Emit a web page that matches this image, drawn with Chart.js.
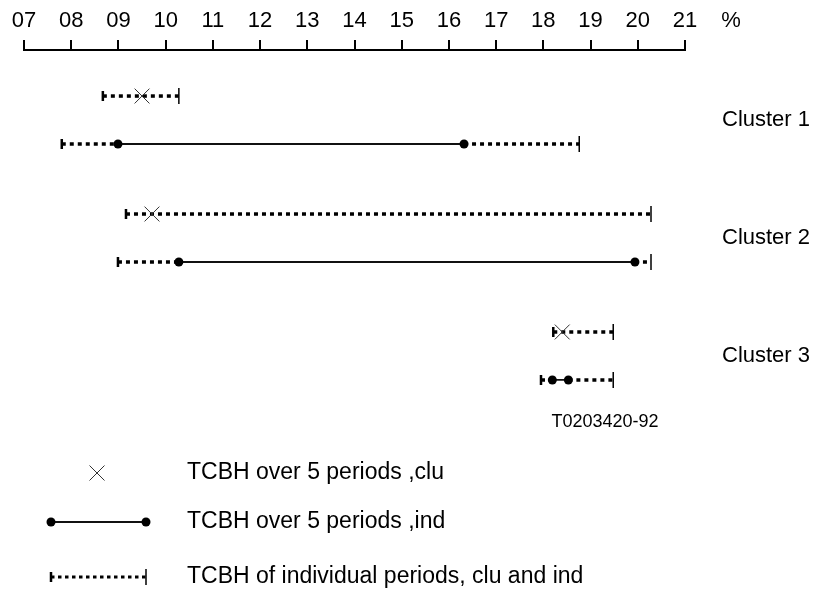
<!DOCTYPE html>
<html>
<head>
<meta charset="utf-8">
<script src="https://cdn.jsdelivr.net/npm/chart.js@4.4.1/dist/chart.umd.min.js"></script>
<style>
  body { margin: 0; background: #fff; }
  canvas { display: block; }
</style>
</head>
<body>
<canvas id="tcbh-chart" width="819" height="590"></canvas>
<script>
// --TCBH chart-- //

const tickLabels = ['07', '08', '09', '10', '11', '12', '13', '14', '15', '16', '17', '18', '19', '20', '21'];
const clusters = ['Cluster 1', 'Cluster 2', 'Cluster 3'];

// cluster rows (clu)
const cluMin = [8.67, 9.16, 18.21];
const cluMax = [10.28, 20.28, 19.48];
const cluOver = [9.50, 9.71, 18.40];

// individual rows (ind)
const indMin = [7.80, 8.99, 17.95];
const indLow = [8.99, 10.28, 18.19];
const indHigh = [16.32, 19.94, 18.53];
const indMax = [18.76, 20.28, 19.48];

const legendLabels = [
  'TCBH over 5 periods ,clu',
  'TCBH over 5 periods ,ind',
  'TCBH of individual periods, clu and ind'
];

const FONT = '"Liberation Sans", Arial, Helvetica, sans-serif';
const ink = '#000';

const cluRow = (i) => 0.96 + i * 2.46;
const indRow = (i) => cluRow(i) + 1;

const rangeStyle = {
  type: 'line',
  borderColor: ink,
  borderWidth: 3.5,
  borderDash: [4, 4],
  pointStyle: 'line',
  pointRotation: 90,
  pointBorderColor: ink,
  pointHoverRadius: 0,
  spanGaps: false,
  order: 3
};

let datasets = [];
clusters.forEach((name, i) => {
  datasets.push(Object.assign({}, rangeStyle, {
    data: [{x: cluMin[i], y: cluRow(i)}, {x: cluMax[i], y: cluRow(i)}],
    pointRadius: [5, 8],
    pointBorderWidth: [2.5, 1.5]
  }));
  datasets.push(Object.assign({}, rangeStyle, {
    data: [
      {x: indMin[i], y: indRow(i)},
      {x: indLow[i], y: indRow(i)},
      {x: indLow[i], y: null},
      {x: indHigh[i], y: indRow(i)},
      {x: indMax[i], y: indRow(i)}
    ],
    pointRadius: [5, 0, 0, 0, 8],
    pointBorderWidth: [2.5, 0, 0, 0, 1.5]
  }));
  datasets.push({
    type: 'line',
    data: [{x: indLow[i], y: indRow(i)}, {x: indHigh[i], y: indRow(i)}],
    borderColor: '#111',
    borderWidth: 1.8,
    pointStyle: 'circle',
    pointRadius: 4.5,
    pointBackgroundColor: ink,
    pointBorderColor: ink,
    pointBorderWidth: 0,
    order: 1
  });
  datasets.push({
    type: 'scatter',
    data: [{x: cluOver[i], y: cluRow(i)}],
    pointStyle: 'crossRot',
    pointRadius: 10.5,
    pointBorderWidth: 1,
    pointBorderColor: '#333',
    order: 0
  });
});

// texts and legend drawn on the canvas
const annotations = {
  id: 'annotations',
  afterDraw(chart) {
    const {ctx, scales: {x, y}} = chart;
    ctx.save();
    ctx.fillStyle = ink;
    ctx.textBaseline = 'middle';

    ctx.font = '22px ' + FONT;
    ctx.textAlign = 'center';
    ctx.fillText('%', x.right + 46, 21);

    ctx.textAlign = 'left';
    clusters.forEach((name, i) => {
      ctx.fillText(name, x.right + 37, y.getPixelForValue(cluRow(i) + 0.5));
    });

    ctx.font = '18px ' + FONT;
    ctx.textAlign = 'center';
    ctx.fillText('T0203420-92', 605, 422);

    // legend
    const rows = [473, 522, 577];
    const sx = 51, ex = 146;
    ctx.strokeStyle = '#333';
    ctx.lineWidth = 1;
    ctx.beginPath();
    ctx.moveTo(97 - 7.5, rows[0] - 7.5); ctx.lineTo(97 + 7.5, rows[0] + 7.5);
    ctx.moveTo(97 + 7.5, rows[0] - 7.5); ctx.lineTo(97 - 7.5, rows[0] + 7.5);
    ctx.stroke();

    ctx.strokeStyle = '#111';
    ctx.lineWidth = 1.8;
    ctx.beginPath();
    ctx.moveTo(sx, rows[1]); ctx.lineTo(ex, rows[1]);
    ctx.stroke();
    [sx, ex].forEach(px => {
      ctx.beginPath();
      ctx.arc(px, rows[1], 4.5, 0, Math.PI * 2);
      ctx.fill();
    });

    ctx.strokeStyle = ink;
    ctx.lineWidth = 3;
    ctx.setLineDash([3.5, 3.5]);
    ctx.beginPath();
    ctx.moveTo(sx, rows[2]); ctx.lineTo(ex, rows[2]);
    ctx.stroke();
    ctx.setLineDash([]);
    ctx.lineWidth = 2.5;
    ctx.beginPath();
    ctx.moveTo(sx, rows[2] - 5); ctx.lineTo(sx, rows[2] + 5);
    ctx.stroke();
    ctx.lineWidth = 1.5;
    ctx.beginPath();
    ctx.moveTo(ex, rows[2] - 8); ctx.lineTo(ex, rows[2] + 8);
    ctx.stroke();

    ctx.font = '23px ' + FONT;
    ctx.textAlign = 'left';
    legendLabels.forEach((t, i) => ctx.fillText(t, 187, rows[i]));
    ctx.restore();
  }
};

const tcbhCanvas = document.getElementById('tcbh-chart');

const tcbhChart = new Chart(tcbhCanvas, {
  data: { datasets: datasets },
  options: {
    responsive: false,
    animation: false,
    events: [],
    layout: {
      padding: { left: 24, right: 134, top: 0, bottom: 0 }
    },
    scales: {
      x: {
        type: 'linear',
        position: 'top',
        min: 7,
        max: 21,
        afterFit: (scale) => { scale.height = 50; },
        border: { display: true, color: ink, width: 2 },
        grid: {
          drawOnChartArea: false,
          drawTicks: true,
          tickLength: 10,
          color: ink,
          lineWidth: 2
        },
        ticks: {
          stepSize: 1,
          padding: 6,
          color: ink,
          font: { family: FONT, size: 22 },
          maxRotation: 0,
          autoSkip: false,
          callback: (value) => tickLabels[value - 7]
        }
      },
      y: {
        type: 'linear',
        display: false,
        reverse: true,
        min: 0,
        max: 11.02
      }
    },
    plugins: {
      legend: { display: false },
      tooltip: { enabled: false }
    }
  },
  plugins: [annotations]
});
</script>
</body>
</html>
